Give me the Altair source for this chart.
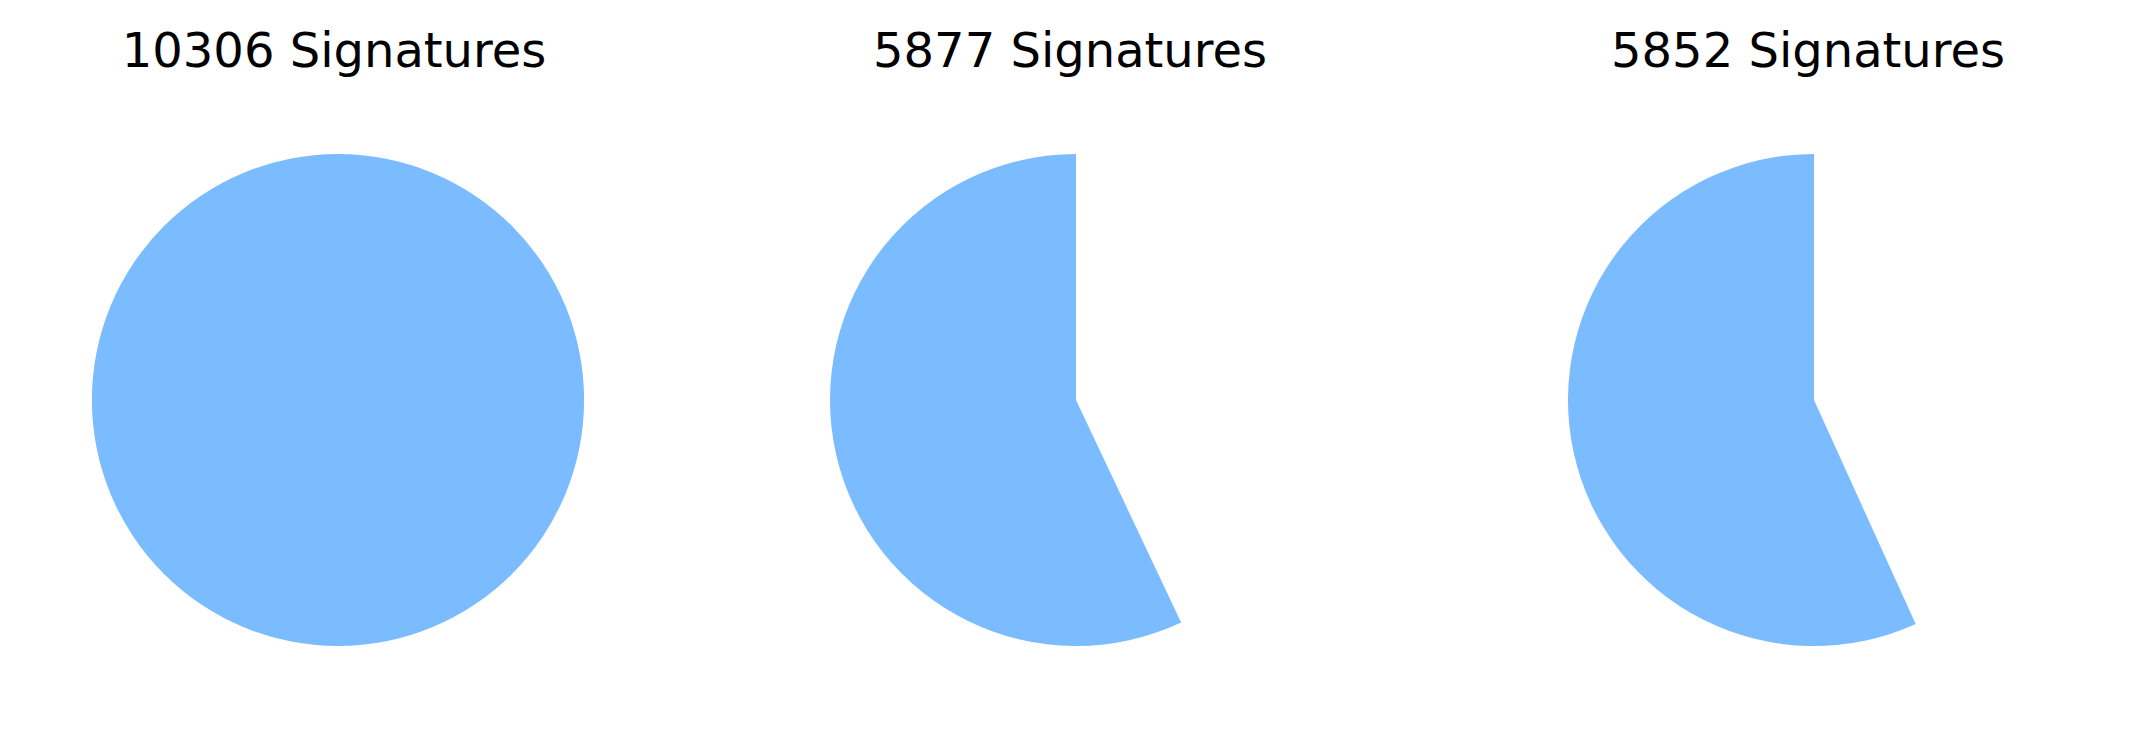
import altair as alt
import pandas as pd

# Data
titles = ["10306 Signatures", "5877 Signatures", "5852 Signatures"]
counts = [10306, 5877, 5852]
total = 10306

rows = []
for i, (t, c) in enumerate(zip(titles, counts)):
    rows.append({"pie": i, "part": "rest", "value": total - c, "ord": 0})
    rows.append({"pie": i, "part": "sig", "value": c, "ord": 1})
df = pd.DataFrame(rows)
tdf = pd.DataFrame({"pie": list(range(len(titles))), "title": titles})

CX, CY, R = 338, 400, 246
TX = [334, 332, 332]
panels = []
for i in range(len(titles)):
    arc = alt.Chart(df).transform_filter(alt.datum.pie == i).mark_arc(
        radius=R, strokeWidth=0
    ).encode(
        theta=alt.Theta("value:Q", stack=True),
        order=alt.Order("ord:Q", sort="ascending"),
        color=alt.Color("part:N", scale=alt.Scale(domain=["rest", "sig"],
                        range=["#ffffff", "#7abcff"]), legend=None),
        opacity=alt.Opacity("part:N", scale=alt.Scale(domain=["rest", "sig"],
                            range=[0, 1]), legend=None),
        x=alt.value(CX), y=alt.value(CY),
    )
    txt = alt.Chart(tdf).transform_filter(alt.datum.pie == i).mark_text(
        font="DejaVu Sans", fontSize=48, align="center", baseline="alphabetic",
        color="black"
    ).encode(text="title:N", x=alt.value(TX[i]), y=alt.value(66.7))
    panels.append(alt.layer(arc, txt).properties(width=676, height=738))

chart = alt.hconcat(*panels, spacing=62).properties(padding=0).configure_view(
    stroke=None
).resolve_scale(color="independent", opacity="independent", theta="independent")

chart.save("out.html", embed_options={"renderer": "svg", "actions": False})
